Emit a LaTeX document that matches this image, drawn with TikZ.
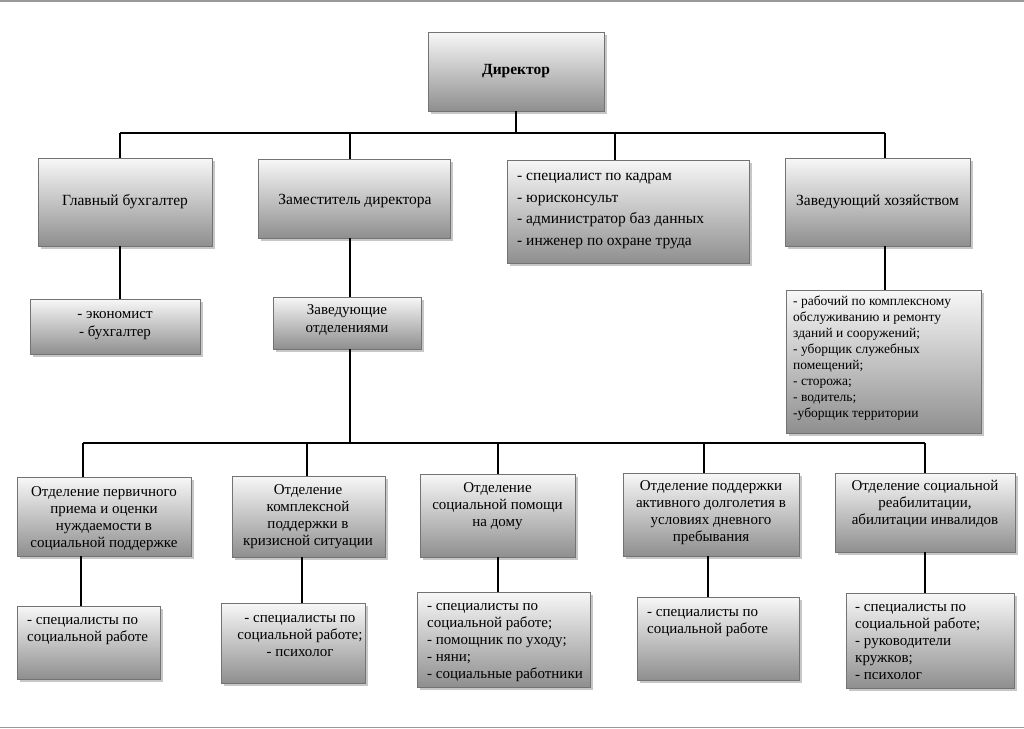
\documentclass[tikz,border=0pt]{standalone}
\usepackage{fontspec}
\setmainfont{Liberation Serif}
\usetikzlibrary{fit}
\tikzset{
  box/.style={draw=black!55, line width=0.8pt, top color=black!3, bottom color=black!44, inner sep=0pt},
  shadowc/.style={fill=black!22},
  conn/.style={line width=1.6pt, black},
  tc/.style={inner sep=0pt, align=center, anchor=north},
  tl/.style={inner sep=0pt, align=left, anchor=north west},
  tm/.style={inner sep=0pt, align=center},
}
\newcommand\obox[5]{%
  \fill[shadowc] (#2+2.5,#3+2.5) rectangle (#4+2.5,#5+2.5);
  \node[box, fit={(#2,#3)(#4,#5)}] (#1) {};}
\newcommand\ts{\rule{0pt}{0.75em}}
\newcommand\fTop{\fontsize{15.5}{18}\selectfont}
\newcommand\fList{\fontsize{15.5}{21.5}\selectfont}
\newcommand\fDep{\fontsize{15}{17}\selectfont}
\newcommand\fEc{\fontsize{15}{18}\selectfont}
\newcommand\fHoz{\fontsize{13.5}{16}\selectfont}
\begin{document}
\begin{tikzpicture}[x=1pt,y=-1pt]
\useasboundingbox (0,0) rectangle (1024,728);
\fill[white] (0,0) rectangle (1024,728);
\draw[black!40, line width=1.5pt] (0,0.75) -- (1024,0.75);
\draw[black!40, line width=1.5pt] (0,727.25) -- (1024,727.25);

% bus coordinates
\coordinate (b1) at (120,133);
\coordinate (b2) at (350,133);
\coordinate (b3) at (615,133);
\coordinate (b4) at (885,133);
\coordinate (bd) at (516,133);
\coordinate (c1) at (83,443);
\coordinate (c2) at (307,443);
\coordinate (c3) at (498,443);
\coordinate (c4) at (704,443);
\coordinate (c5) at (925,443);
\coordinate (cz) at (350,443);

% connectors
\draw[conn] (b1) -- (b4);
\draw[conn] (c1) -- (c5);

% boxes
\obox{dir}{428}{32}{604}{111}
\obox{gb}{38}{158}{212}{246}
\obox{zam}{258}{159}{450}{238}
\obox{spec}{507}{160}{749}{263}
\obox{hoz}{785}{158}{970}{246}
\obox{ec}{30}{299}{200}{354}
\obox{zo}{273}{297}{421}{349}
\obox{hozl}{786}{290}{981}{433}
\obox{d1}{17}{477}{191}{556}
\obox{d2}{232}{476}{385}{557}
\obox{d3}{420}{474}{575}{557}
\obox{d4}{623}{473}{799}{556}
\obox{d5}{835}{473}{1015}{552}
\obox{s1}{17}{606}{160}{679}
\obox{s2}{221}{603}{365}{683}
\obox{s3}{417}{592}{590}{687}
\obox{s4}{637}{597}{799}{680}
\obox{s5}{846}{593}{1014}{688}

\draw[conn] (dir.south -| bd) -- (bd);
\draw[conn] (b1) -- (b1 |- gb.north);
\draw[conn] (b2) -- (b2 |- zam.north);
\draw[conn] (b3) -- (b3 |- spec.north);
\draw[conn] (b4) -- (b4 |- hoz.north);
\draw[conn] (gb.south -| b1) -- (b1 |- ec.north);
\draw[conn] (zam.south -| b2) -- (b2 |- zo.north);
\draw[conn] (zo.south -| cz) -- (cz);
\draw[conn] (hoz.south -| b4) -- (b4 |- hozl.north);
\draw[conn] (c1) -- (c1 |- d1.north);
\draw[conn] (c2) -- (c2 |- d2.north);
\draw[conn] (c3) -- (c3 |- d3.north);
\draw[conn] (c4) -- (c4 |- d4.north);
\draw[conn] (c5) -- (c5 |- d5.north);
\coordinate (e1) at (81,556);
\coordinate (e2) at (302,557);
\coordinate (e4) at (708,556);
\draw[conn] (e1) -- (e1 |- s1.north);
\draw[conn] (e2) -- (e2 |- s2.north);
\draw[conn] (d3.south -| c3) -- (c3 |- s3.north);
\draw[conn] (e4) -- (e4 |- s4.north);
\draw[conn] (d5.south -| c5) -- (c5 |- s5.north);

% texts
\node[tm, font=\fTop\bfseries] (dir-t) at (dir.center) {Директор};
\node[tm, font=\fTop] (gb-t) at (gb.center) {Главный бухгалтер};
\node[tm, font=\fTop] (zam-t) at (355,201) {Заместитель директора};
\node[tm, font=\fTop] (hoz-t) at (hoz.center) {Заведующий хозяйством};
\node[tl, font=\fList] (spec-t) at (517,169) {\ts- специалист по кадрам\\- юрисконсульт\\- администратор баз данных\\- инженер по охране труда};
\node[tc, font=\fEc] (ec-t) at (115,307.5) {\ts- экономист\\- бухгалтер};
\node[tc, font=\fEc] (zo-t) at (347,303.5) {\ts Заведующие\\отделениями};
\node[tl, font=\fHoz] (hozl-t) at (793,295) {\ts- рабочий по комплексному\\обслуживанию и ремонту\\зданий и сооружений;\\- уборщик служебных\\помещений;\\- сторожа;\\- водитель;\\-уборщик территории};
\node[tc, font=\fDep] (d1-t) at (104,485.5) {\ts Отделение первичного\\приема и оценки\\нуждаемости в\\социальной поддержке};
\node[tc, font=\fDep] (d2-t) at (308,483.5) {\ts Отделение\\комплексной\\поддержки в\\кризисной ситуации};
\node[tc, font=\fDep] (d3-t) at (497.5,481.5) {\ts Отделение\\социальной помощи\\на дому};
\node[tc, font=\fDep] (d4-t) at (711,479.5) {\ts Отделение поддержки\\активного долголетия в\\условиях дневного\\пребывания};
\node[tc, font=\fDep] (d5-t) at (925,479.5) {\ts Отделение социальной\\реабилитации,\\абилитации инвалидов};
\node[tl, font=\fDep] (s1-t) at (27,613.5) {\ts- специалисты по\\социальной работе};
\node[tc, font=\fDep] (s2-t) at (300,611.5) {\ts- специалисты по\\социальной работе;\\- психолог};
\node[tl, font=\fDep] (s3-t) at (427,599.5) {\ts- специалисты по\\социальной работе;\\- помощник по уходу;\\- няни;\\- социальные работники};
\node[tl, font=\fDep] (s4-t) at (647,605.5) {\ts- специалисты по\\социальной работе};
\node[tl, font=\fDep] (s5-t) at (855,600.5) {\ts- специалисты по\\социальной работе;\\- руководители\\кружков;\\- психолог};
\end{tikzpicture}
\end{document}
